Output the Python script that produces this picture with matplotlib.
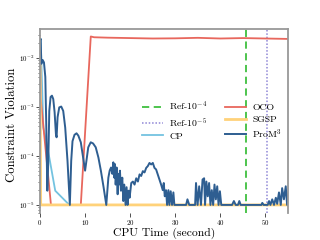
import matplotlib
matplotlib.use("Agg")
import matplotlib.pyplot as plt

plt.rcParams["font.family"] = "serif"
plt.rcParams["font.serif"] = ["cmr10"]
plt.rcParams["mathtext.fontset"] = "cm"
plt.rcParams["axes.formatter.use_mathtext"] = True

# reference lines (CPU time, s)
ref4_t = 45.6
ref5_t = 50.25

# CP
cp_t = [0.0, 0.15, 0.74, 2.06, 3.38, 6.5]
cp_v = [2.3e-2, 2.45e-2, 3.8e-4, 9.3e-5, 1.95e-5, 1e-5]

# OCO
oco_t = [0.0, 0.15, 2.43, 9.05, 11.26, 12.0, 15.0, 20.0, 25.0, 30.0, 35.0, 40.0, 45.0, 50.0, 55.0]
oco_v = [2.0e-2, 1.5e-3, 1e-5, 1e-5, 2.75e-2, 2.65e-2, 2.6e-2, 2.55e-2, 2.5e-2, 2.52e-2,
         2.58e-2, 2.5e-2, 2.55e-2, 2.5e-2, 2.45e-2]

# SGSP
sgsp_t = [0.0, 0.15, 55.0]
sgsp_v = [1.2e-2, 1e-5, 1e-5]

# ProM^3
prom_t = [0.0, 0.15, 0.29, 0.59, 0.88, 1.18, 1.40, 1.62, 1.84, 2.06, 2.35, 2.65, 2.94, 3.24,
          3.53, 3.68, 3.90, 4.27, 4.71, 5.15, 5.59, 6.10, 6.62, 6.92, 7.21, 7.65, 8.10, 8.50,
          9.05, 9.57, 10.0, 10.3, 10.7, 11.25, 11.77, 12.36, 12.95, 13.5, 14.1, 14.7,
          15.16, 15.45, 15.75, 16.04, 16.26, 16.48, 16.63, 16.78, 17.0, 17.22, 17.37, 17.51,
          17.73, 17.95, 18.25, 18.47, 18.69, 18.98, 19.2, 19.43, 19.65, 19.87,
          20.24, 20.6, 20.97, 21.34, 21.71, 22.08, 22.44, 22.81, 23.18, 23.55, 23.91, 24.28,
          24.65, 25.02, 25.39, 25.75, 26.12, 26.49, 26.86, 27.23, 27.45, 27.67, 27.96, 28.18,
          28.48, 28.7, 28.99, 29.28, 29.58, 29.8, 32.4, 32.7, 33.1, 34.4, 34.6, 34.95, 35.3,
          35.7, 36.05, 36.4, 36.6, 36.9, 37.2, 37.5, 37.8, 38.1, 38.4, 38.7, 39.0, 39.3,
          39.6, 39.9, 40.2, 42.6, 43.0, 43.4, 43.9, 44.2, 44.5, 49.1, 49.3, 49.6, 50.5,
          50.8, 51.1, 51.5, 51.9, 52.3, 52.6, 53.0, 53.4, 53.7, 54.1, 54.5, 54.8, 55.2]
prom_v = [2.3e-2, 2.45e-2, 7.6e-3, 9.1e-3, 8.1e-3, 4.1e-3, 3.8e-4, 1.95e-5, 7.9e-5, 8.3e-4,
          1.6e-3, 1.7e-3, 1.45e-3, 7.8e-4, 2.8e-4, 2.4e-4, 6.2e-4, 9.8e-4, 1.02e-3, 8.3e-4,
          3.8e-4, 7.9e-5, 1e-5, 7.9e-5, 2.0e-4, 2.7e-4, 2.9e-4, 2.6e-4, 1.9e-4, 9.3e-5,
          5.0e-5, 7.9e-5, 1.5e-4, 1.9e-4, 1.8e-4, 1.5e-4, 9.3e-5, 5.0e-5, 2.3e-5, 1e-5,
          3.6e-5, 5.0e-5, 5.8e-5, 4.3e-5, 7.4e-5, 3.6e-5, 6.8e-5, 2.6e-5, 5.8e-5, 1.65e-5,
          4.3e-5, 2.6e-5, 5.0e-5, 1.95e-5, 3.6e-5, 1.2e-5, 2.6e-5, 1e-5, 2.3e-5, 1e-5,
          1.95e-5, 1.4e-5,
          2.8e-5, 3.0e-5, 2.6e-5, 3.5e-5, 3.0e-5, 4.2e-5, 3.9e-5, 4.9e-5, 4.6e-5, 5.7e-5,
          6.2e-5, 7.2e-5, 6.7e-5, 7.2e-5, 5.7e-5, 5.3e-5, 4.2e-5, 3.3e-5, 2.6e-5, 2.0e-5,
          2.8e-5, 1.5e-5, 2.0e-5, 1e-5, 2.0e-5, 1e-5, 1.9e-5, 1e-5, 1.8e-5, 1e-5, 1e-5,
          1.3e-5, 1e-5, 1e-5, 2.8e-5, 1e-5, 2.4e-5, 1e-5, 3.3e-5, 3.5e-5, 1e-5, 3.0e-5,
          1.5e-5, 2.8e-5, 1e-5, 2.0e-5, 1e-5, 2.6e-5, 1.3e-5, 2.4e-5, 1e-5, 1.9e-5, 1e-5,
          1e-5, 1.2e-5, 1e-5, 1e-5, 1.2e-5, 1e-5, 1e-5, 1.1e-5, 1e-5, 1e-5, 1.2e-5, 1e-5,
          1.3e-5, 1e-5, 1.4e-5, 1.05e-5, 1.8e-5, 1e-5, 2.2e-5, 1.3e-5, 2.4e-5, 1e-5, 2.0e-5]

fig, ax = plt.subplots(figsize=(3.2, 2.4), dpi=100)
fig.subplots_adjust(left=0.125, right=0.9, bottom=0.112, top=0.879)

ax.axvline(ref4_t, color="#3fbf3f", ls=(0, (4, 2.5)), lw=1.3, label=r"Ref-$10^{-4}$")
ax.axvline(ref5_t, color="#8f86d6", ls=(0, (1, 1.2)), lw=1.1, label=r"Ref-$10^{-5}$")
ax.plot(cp_t, cp_v, color="#74c3e0", lw=1.3, label="CP")
ax.plot(oco_t, oco_v, color="#e8675d", lw=1.3, label="OCO")
ax.plot(sgsp_t, sgsp_v, color="#ffd27a", lw=2.0, label="SGSP")
ax.plot(prom_t, prom_v, color="#2e5e91", lw=1.4, label=r"ProM$^3$")

ax.set_yscale("log")
ax.set_xlim(0, 55)
ax.set_ylim(6.8e-6, 3.9e-2)
ax.set_xticks([0, 10, 20, 30, 40, 50])

for side in ["top", "left", "right"]:
    ax.spines[side].set_color("#999999")
    ax.spines[side].set_linewidth(1.3)
ax.spines["bottom"].set_visible(False)

ax.tick_params(axis="both", which="major", labelsize=5, length=3, width=0.6, color="#333333", pad=0.8)
ax.tick_params(axis="y", which="minor", length=1.8, width=0.5, color="#333333")

ax.set_xlabel("CPU Time (second)", fontsize=8.4)
ax.set_ylabel("Constraint Violation", fontsize=9.1)
ax.xaxis.set_label_coords(0.5, -0.077)
ax.yaxis.set_label_coords(-0.09, 0.48)

ax.legend(ncol=2, frameon=False, fontsize=7, loc="center",
          bbox_to_anchor=(0.693, 0.505), handlelength=2.2, columnspacing=1.8,
          labelspacing=0.3, handletextpad=0.6)

fig.savefig("out.png", dpi=100)
